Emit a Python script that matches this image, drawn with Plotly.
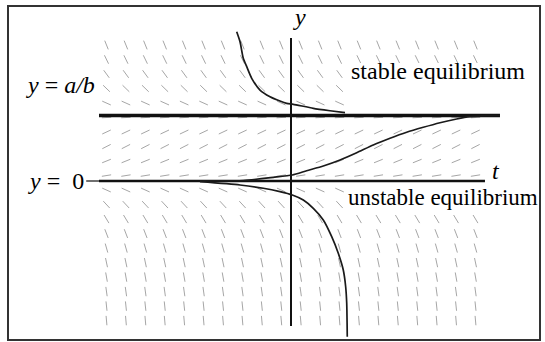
import math
import plotly.graph_objects as go

# ---- slope field for the logistic equation dy/dt = y(a - b y) ----
# sample times (columns) and sample heights (rows) of the direction field
t_grid = [-3.000, -2.684, -2.368, -2.053, -1.737, -1.421, -1.105, -0.789, -0.474, -0.158,
          0.158, 0.474, 0.789, 1.105, 1.421, 1.737, 2.053, 2.368, 2.684, 3.000]
y_rows = [2.076, 1.855, 1.633, 1.412, 1.190, 0.969, 0.748, 0.526, 0.305, 0.083,
          -0.138, -0.360, -0.581, -0.803, -1.024, -1.246, -1.467, -1.688, -1.910, -2.131]
# slope dy/dt of the field along each row (autonomous equation: depends on y only)
row_slopes = [-2.32, -1.93, -1.29, -0.91, -0.42, 0.05, 0.44, 0.48, 0.38, 0.15,
              -0.42, -1.01, -1.56, -2.44, -3.28, -4.40, -5.30, -6.70, -8.90, -10.7]

# equilibrium solutions
eq_stable = 1.0      # y = a/b
eq_unstable = 0.0    # y = 0

# solution starting above a/b, decaying to the stable equilibrium
above_t = [-0.883, -0.829, -0.776, -0.720, -0.639, -0.504, -0.341, -0.179, -0.070, 0.037, 0.363, 0.634, 0.878]
above_y = [2.279, 2.127, 1.873, 1.745, 1.568, 1.389, 1.287, 1.221, 1.186, 1.171, 1.110, 1.073, 1.043]

# solution between 0 and a/b, rising from 0 towards a/b
between_t = [-1.480, -0.776, -0.288, 0.021, 0.255, 0.525, 0.797, 1.068, 1.338, 1.610,
             1.881, 2.151, 2.423, 2.694, 2.911, 3.182, 3.398]
between_y = [0.003, 0.008, 0.056, 0.092, 0.157, 0.229, 0.321, 0.432, 0.550, 0.652,
             0.744, 0.820, 0.890, 0.947, 0.982, 0.998, 1.000]

# solution starting below 0, falling away from the unstable equilibrium
below_t = [-1.480, -0.829, -0.450, -0.179, 0.021, 0.200, 0.363, 0.525, 0.662, 0.769,
           0.850, 0.889, 0.906, 0.915]
below_y = [-0.010, -0.061, -0.111, -0.163, -0.214, -0.290, -0.417, -0.595, -0.850, -1.104,
           -1.359, -1.614, -1.867, -2.377]

# extents of the drawn axes / equilibrium lines
t_axis_span = [-3.122, 3.154]
t_lead_span = [-3.330, -3.122]
stable_span = [-3.122, 3.398]
y_axis_span = [-2.214, 2.183]

# ---- page geometry ----
W, H = 545, 342
OX, OY = 291.0, 181.0        # pixel position of the origin
PX_T, PX_Y = 61.5, 65.5      # pixels per unit of t and of y

x_range = [-OX / PX_T, (W - OX) / PX_T]
y_range = [-(H - OY) / PX_Y, OY / PX_Y]


def px_to_t(px):
    return (px - OX) / PX_T


def py_to_y(py):
    return (OY - py) / PX_Y


def paper_x(px):
    return px / W


def paper_y(py):
    return 1 - py / H


fig = go.Figure()

# direction-field dashes, fixed on-screen length, centred on the sample points
half_len = 4.7
dx, dy = [], []
for yv, s in zip(y_rows, row_slopes):
    vx, vy = 1.0, s * PX_Y / PX_T
    n = math.hypot(vx, vy)
    ht = vx / n * half_len / PX_T
    hy = vy / n * half_len / PX_Y
    for tv in t_grid:
        dx += [tv - ht, tv + ht, None]
        dy += [yv - hy, yv + hy, None]
fig.add_trace(go.Scatter(x=dx, y=dy, mode="lines",
                         line=dict(color="#a6a6a6", width=1), hoverinfo="skip"))

# white backing behind the two right-hand captions
for top, bot in [(63, 112), (184, 213)]:
    x0, x1 = px_to_t(347), px_to_t(W + 5)
    y0, y1 = py_to_y(top), py_to_y(bot)
    fig.add_trace(go.Scatter(x=[x0, x1, x1, x0, x0], y=[y0, y0, y1, y1, y0],
                             mode="lines", fill="toself", fillcolor="white",
                             line=dict(width=0, color="white"), hoverinfo="skip"))

ink = "#111111"
# coordinate axes and equilibrium lines
fig.add_trace(go.Scatter(x=[0, 0], y=y_axis_span, mode="lines",
                         line=dict(color=ink, width=2)))
fig.add_trace(go.Scatter(x=t_lead_span, y=[eq_unstable] * 2, mode="lines",
                         line=dict(color=ink, width=1.2)))
fig.add_trace(go.Scatter(x=t_axis_span, y=[eq_unstable] * 2, mode="lines",
                         line=dict(color=ink, width=2.5)))
fig.add_trace(go.Scatter(x=stable_span, y=[eq_stable] * 2, mode="lines",
                         line=dict(color=ink, width=3.5)))

# solution curves
for ts, ys in [(above_t, above_y), (between_t, between_y), (below_t, below_y)]:
    fig.add_trace(go.Scatter(x=ts, y=ys, mode="lines",
                             line=dict(color="#1a1a1a", width=1.7, shape="spline",
                                       smoothing=0.6)))

serif = "Liberation Serif, Times New Roman, serif"
labels = [
    ("<i>y</i>", 299, 17, "center", 24),
    ("<i>t</i>", 496, 171, "center", 24),
    ("<i>y</i> = <i>a/b</i>", 24, 85, "left", 24),
    ("<i>y</i> =\u00a0\u00a00", 26, 181, "left", 24),
    ("stable equilibrium", 349, 71, "left", 24),
    ("unstable equilibrium", 346, 197, "left", 23),
]
for text, px, py, anchor, size in labels:
    fig.add_annotation(text=text, x=paper_x(px), y=paper_y(py), xref="paper", yref="paper",
                       xanchor=anchor, yanchor="middle", showarrow=False,
                       font=dict(family=serif, size=size, color="#000000"))

# outer frame
fig.add_shape(type="rect", xref="paper", yref="paper",
              x0=paper_x(8), x1=paper_x(540), y0=paper_y(340), y1=paper_y(6),
              line=dict(color="#333333", width=2), layer="above")

fig.update_layout(
    width=W, height=H, autosize=False,
    margin=dict(l=0, r=0, t=0, b=0),
    paper_bgcolor="white", plot_bgcolor="white",
    showlegend=False,
    xaxis=dict(range=x_range, visible=False, fixedrange=True),
    yaxis=dict(range=y_range, visible=False, fixedrange=True),
)

fig.write_html("out.html")
